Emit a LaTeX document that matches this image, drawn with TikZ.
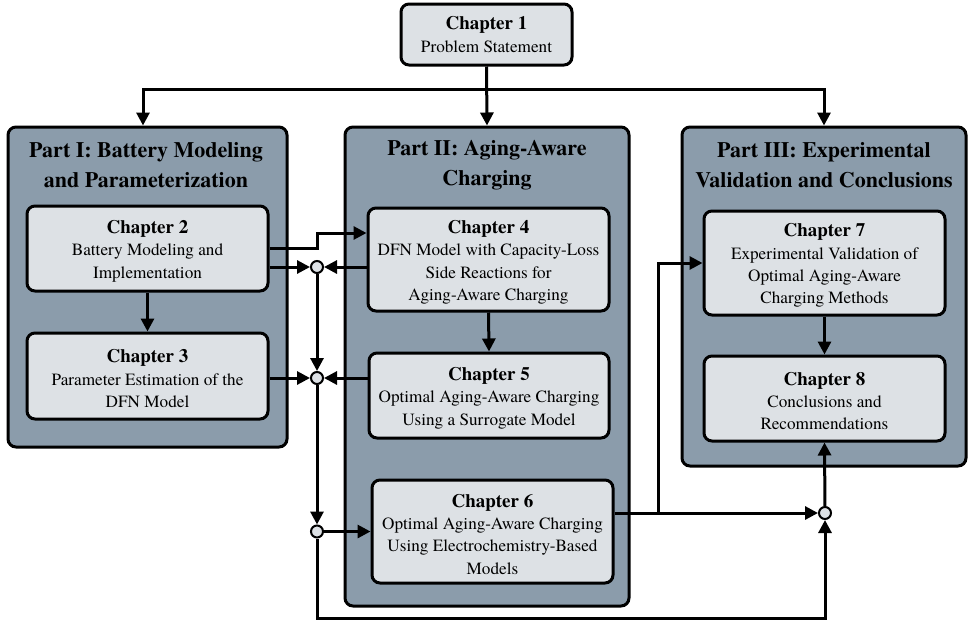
\documentclass[tikz,border=0pt]{standalone}
\usepackage{fontspec}
\setmainfont{texgyretermes}[Extension=.otf,UprightFont=*-regular,BoldFont=*-bold,
  ItalicFont=*-italic,BoldItalicFont=*-bolditalic]
\usetikzlibrary{arrows.meta,calc}
\definecolor{partfill}{RGB}{139,156,171}
\definecolor{chapfill}{RGB}{221,225,229}
% chapter heading line; the strut variant lowers the text block slightly
\newcommand\chapttl[1]{{\fontsize{19}{22}\selectfont\bfseries Chapter #1}}
\newcommand\chapttllow[1]{{\rule{0pt}{18.5pt}\fontsize{19}{22}\selectfont\bfseries Chapter #1}}
\begin{document}
\begin{tikzpicture}[x=1pt,y=-1pt,
  partbox/.style={draw=black,line width=3pt,fill=partfill,rounded corners=8pt,inner sep=0pt},
  chapbox/.style={draw=black,line width=3pt,fill=chapfill,rounded corners=8pt,align=center,
    inner sep=0pt,font=\rmfamily\fontsize{17.2}{22.3}\selectfont},
  parttitle/.style={align=center,inner sep=0pt,font=\rmfamily\fontsize{22}{30}\selectfont\bfseries},
  junc/.style={circle,draw=black,line width=2pt,fill=chapfill,minimum size=12pt,inner sep=0pt},
  arr/.style={line width=3pt,-{Triangle[length=13pt,width=13pt]}}
]
\useasboundingbox (0,0) rectangle (968,622);

% part panels
\node[partbox,minimum width=279pt,minimum height=320pt] (p1) at (147.5,287) {};
\node[partbox,minimum width=284pt,minimum height=479pt] (p2) at (487,366.5) {};
\node[partbox,minimum width=284pt,minimum height=339pt] (p3) at (824,296.5) {};

\node[parttitle] (t1) at (146,165.5) {Part I: Battery Modeling\\and Parameterization};
\node[parttitle] (t2) at (487,165.5) {Part II: Aging-Aware\\Charging};
\node[parttitle] (t3) at (824,165.5) {Part III: Experimental\\Validation and Conclusions};

% chapters
\node[chapbox,minimum width=171pt,minimum height=61pt] (c1) at (486.5,34.5)
  {\chapttl{1}\\Problem Statement};
\node[chapbox,minimum width=241pt,minimum height=85pt] (c2) at (147.5,248.5)
  {\chapttllow{2}\\Battery Modeling and\\Implementation};
\node[chapbox,minimum width=241pt,minimum height=86pt] (c3) at (147.5,376)
  {\chapttllow{3}\\Parameter Estimation of the\\DFN Model};
\node[chapbox,minimum width=241pt,minimum height=103pt] (c4) at (488.5,259.5)
  {\chapttllow{4}\\DFN Model with Capacity-Loss\\Side Reactions for\\Aging-Aware Charging};
\node[chapbox,minimum width=240pt,minimum height=85pt] (c5) at (489,395.5)
  {\chapttllow{5}\\Optimal Aging-Aware Charging\\Using a Surrogate Model};
\node[chapbox,minimum width=241pt,minimum height=103pt] (c6) at (492.5,531.5)
  {\chapttllow{6}\\Optimal Aging-Aware Charging\\Using Electrochemistry-Based\\Models};
\node[chapbox,minimum width=241pt,minimum height=104pt] (c7) at (824.5,263)
  {\chapttllow{7}\\Experimental Validation of\\Optimal Aging-Aware\\Charging Methods};
\node[chapbox,minimum width=241pt,minimum height=85pt] (c8) at (824.5,398.5)
  {\chapttllow{8}\\Conclusions and\\Recommendations};

% summing junctions
\node[junc] (j1) at (317,267) {};
\node[junc] (j2) at (317,378) {};
\node[junc] (j3) at (317,531.5) {};
\node[junc] (j4) at (825,513) {};

% helper points
\coordinate (split) at ($(c1.south)+(0,23)$);
\coordinate (bottom) at ($(j3)+(0,87)$);
\coordinate (c6out) at ([yshift=18.5pt]c6.east);
\coordinate (branch) at ($(c6out)+(44,0)$);

% connectors
\draw[arr] (c1.south) -- (p2.north);
\draw[arr] (split) -| ([xshift=-4.5pt]p1.north);
\draw[arr] (split) -| (p3.north);

\draw[arr] (c2.south) -- (c3.north);
\draw[arr] (c2.east) -- (c2.east -| j1) |- ([yshift=26.5pt]c4.west);
\draw[arr] ([yshift=-18.5pt]c2.east) -- (j1);
\draw[arr] ([yshift=-7.5pt]c4.west) -- (j1);
\draw[arr] (j1) -- (j2);
\draw[arr] ([yshift=-2pt]c3.east) -- (j2);
\draw[arr] ([yshift=17.5pt]c5.west) -- (j2);
\draw[arr] (j2) -- (j3);
\draw[arr] (j3) -- (c6.west);
\draw[arr] (c4.south) -- (c5.north);

\draw[arr] (j3) -- (bottom) -| (j4);
\draw[arr] (c6out) -- (j4);
\draw[arr] (branch) |- (c7.west);
\draw[arr] (j4) -- (c8.south);
\draw[arr] (c7.south) -- (c8.north);
\end{tikzpicture}
\end{document}
